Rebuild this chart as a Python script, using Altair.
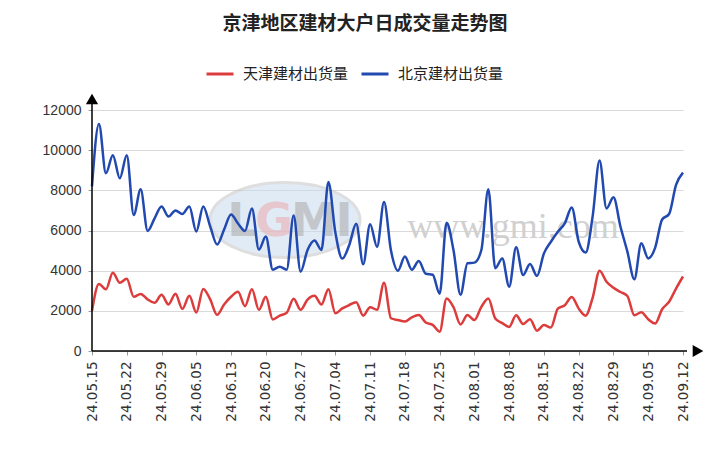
import altair as alt
import pandas as pd

# categories: trading days 24.05.15 - 24.09.12 (06.10 holiday excluded)
dates = [d.strftime("%y.%m.%d") for d in pd.bdate_range("2024-05-15", "2024-09-12")
         if d.strftime("%Y-%m-%d") != "2024-06-10"]
tick_labels = dates[::5]
series_names = ["天津建材出货量", "北京建材出货量"]
colors = ["#dc3c3c", "#2149b0"]

tianjin = [2000, 3340, 3070, 3900, 3400, 3600, 2700, 2840, 2570, 2400,
           2800, 2320, 2850, 2100, 2750, 1920, 3090, 2570, 1800, 2320,
           2700, 2950, 2230, 3070, 2050, 2700, 1570, 1760, 1900, 2600,
           2050, 2560, 2750, 2320, 3080, 1880, 2120, 2290, 2430, 1760,
           2180, 2050, 3400, 1630, 1540, 1470, 1680, 1790, 1420, 1300,
           960, 2620, 2180, 1320, 1790, 1540, 2200, 2610, 1620, 1390,
           1200, 1780, 1350, 1580, 1010, 1290, 1170, 2110, 2280, 2690,
           2110, 1760, 2650, 4000, 3450, 3150, 2940, 2740, 1780, 1930,
           1580, 1370, 2080, 2450, 3110, 3710]

beijing = [8200, 11300, 8850, 9750, 8600, 9750, 6770, 8050, 5980, 6600,
           7200, 6700, 7000, 6820, 7200, 5950, 7200, 6200, 5300, 6050,
           6800, 6350, 5980, 7100, 5050, 5700, 4050, 4200, 4050, 6750,
           3950, 5030, 5500, 5030, 8420, 5900, 4600, 5280, 6340, 4320,
           6310, 5180, 7420, 5000, 4000, 4700, 4050, 4480, 3850, 3800,
           2850, 6380, 5000, 2800, 4370, 4400, 5030, 8050, 4120, 4610,
           3200, 5160, 3780, 4330, 3740, 4860, 5440, 5940, 6360, 7150,
           5440, 4900, 6690, 9480, 7100, 7650, 6200, 4950, 3570, 5360,
           4610, 5150, 6550, 6820, 8270, 8880]

y_ticks = [0, 2000, 4000, 6000, 8000, 10000, 12000]

n = len(dates)
df = pd.DataFrame({
    "date": dates * 2,
    "series": [series_names[0]] * n + [series_names[1]] * n,
    "value": tianjin + beijing,
})

W, H = 591, 241
one = pd.DataFrame({"a": [0]})

# watermark
ellipse = alt.Chart(one).mark_point(
    shape="M-1,0A1,0.5,0,1,1,1,0A1,0.5,0,1,1,-1,0Z",
    filled=True, fill="#c9dbef", stroke="#c4c4c4", strokeWidth=3, opacity=0.55
).encode(x=alt.value(193), y=alt.value(110), size=alt.value(22500))

logo_txt = []
for ch, xx, col in [("L", 150, "#b0b0b0"), ("G", 182, "#eab0b4"), ("M", 222, "#b0b0b0"), ("I", 252, "#b0b0b0")]:
    logo_txt.append(alt.Chart(one).mark_text(
        text=ch, font="DejaVu Sans", fontSize=46, fontWeight="bold", color=col,
        opacity=0.6, baseline="middle", align="center"
    ).encode(x=alt.value(xx), y=alt.value(112)))

www = alt.Chart(one).mark_text(
    text="www.gmi.com", font="Liberation Serif", fontSize=36, color="#d0d0d0",
    baseline="middle", align="center"
).encode(x=alt.value(421), y=alt.value(117))

lines = alt.Chart(df).mark_line(interpolate="monotone", strokeWidth=2.5).encode(
    x=alt.X("date:O", sort=dates,
            scale=alt.Scale(type="point", padding=0),
            axis=alt.Axis(values=tick_labels, labelAngle=-90, title=None,
                          labelFont="DejaVu Sans", labelFontSize=13.5,
                          labelColor="#333333", domain=False, grid=False,
                          tickSize=4, tickColor="#999999", labelPadding=6)),
    y=alt.Y("value:Q", scale=alt.Scale(domain=[0, 12000], nice=False),
            axis=alt.Axis(values=y_ticks, format="d", title=None,
                          labelFont="Liberation Sans", labelFontSize=14,
                          labelColor="#333333", domain=False,
                          tickSize=4, tickColor="#999999", labelPadding=7,
                          gridColor="#d9d9d9", gridWidth=1)),
    color=alt.Color("series:N", sort=series_names,
                    scale=alt.Scale(domain=series_names, range=colors),
                    legend=alt.Legend(orient="none", legendX=113, legendY=-51,
                                      direction="horizontal", title=None,
                                      symbolType="stroke", symbolSize=729,
                                      symbolStrokeWidth=3, labelFontSize=15,
                                      labelFont="Noto Sans CJK SC",
                                      labelColor="#222222", labelOffset=8,
                                      columnPadding=6)),
)

y_axis = alt.Chart(one).mark_rule(color="black", strokeWidth=1.5).encode(
    x=alt.value(0), y=alt.value(-8), y2=alt.value(H))
x_axis = alt.Chart(one).mark_rule(color="black", strokeWidth=1.5).encode(
    x=alt.value(0), x2=alt.value(W + 4), y=alt.value(H))
y_arrow = alt.Chart(one).mark_point(shape="triangle-up", filled=True, color="black",
                                    opacity=1).encode(
    x=alt.value(0), y=alt.value(-11), size=alt.value(150))
x_arrow = alt.Chart(one).mark_point(shape="triangle-right", filled=True, color="black",
                                    opacity=1).encode(
    x=alt.value(W + 15), y=alt.value(H), size=alt.value(150))

title = alt.Chart(one).mark_text(
    text="京津地区建材大户日成交量走势图", font="Noto Sans CJK SC", fontSize=19,
    fontWeight="bold", color="#222222", baseline="middle", align="center"
).encode(x=alt.value(273), y=alt.value(-86))

chart = alt.layer(
    ellipse, *logo_txt, www, lines, y_axis, x_axis, y_arrow, x_arrow, title
).properties(
    width=W, height=H,
    autosize=alt.AutoSizeParams(type="none"),
    padding={"left": 84, "top": 102, "right": 30, "bottom": 100},
    background="white",
).configure_view(stroke=None)

chart.save("out.html", embed_options={"renderer": "svg", "actions": False})
